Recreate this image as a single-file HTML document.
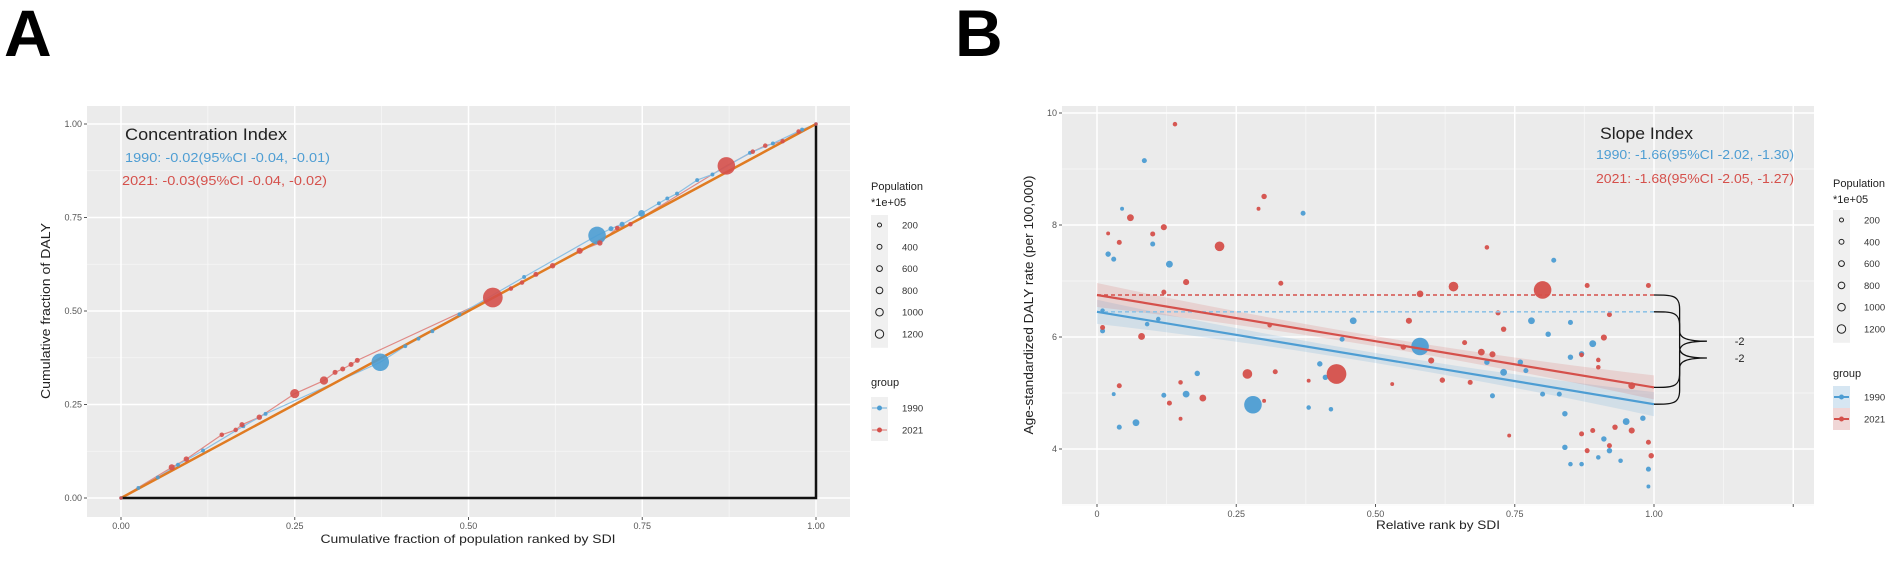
<!DOCTYPE html>
<html><head><meta charset="utf-8">
<style>
html,body{margin:0;padding:0;background:#fff;}
svg{display:block;font-family:"Liberation Sans",sans-serif;}
</style></head>
<body>
<svg id="fig" width="1902" height="563" viewBox="0 0 1902 563">
<text x="4" y="56" font-size="66" font-weight="bold" fill="#000">A</text>
<text x="955" y="56" font-size="66" font-weight="bold" fill="#000">B</text>
<g id="pa"></g>
<g id="pb"></g>
</svg>
<script>
// ---------- Panel A data ----------
const a1990X = [0,0.025,0.053,0.082,0.118,0.176,0.208,0.373,0.409,0.428,0.448,0.487,0.580,0.685,0.705,0.721,0.749,0.774,0.786,0.800,0.829,0.851,0.905,0.938,0.980,1];
const a1990Y = [0,0.027,0.055,0.089,0.127,0.192,0.225,0.363,0.406,0.426,0.446,0.491,0.591,0.702,0.720,0.732,0.761,0.788,0.801,0.814,0.850,0.865,0.923,0.948,0.985,1];
const a1990Pop = [5,10,10,10,10,10,10,1000,10,10,10,10,10,1000,30,30,80,10,10,10,10,10,10,10,10,5];
const a2021X = [0,0.073,0.094,0.145,0.165,0.174,0.199,0.250,0.292,0.308,0.319,0.331,0.340,0.535,0.561,0.577,0.597,0.621,0.660,0.689,0.714,0.733,0.871,0.909,0.927,0.952,0.975,1];
const a2021Y = [0,0.082,0.104,0.169,0.182,0.196,0.216,0.279,0.314,0.336,0.345,0.357,0.368,0.536,0.560,0.576,0.598,0.621,0.661,0.682,0.722,0.732,0.888,0.926,0.942,0.954,0.980,1];
const a2021Pop = [5,60,40,20,20,30,40,200,150,30,30,30,30,1300,20,20,30,40,60,40,20,20,1000,20,20,20,20,5];
const aTicks = [0,0.25,0.5,0.75,1];
const aTickLabels = ["0.00","0.25","0.50","0.75","1.00"];
const legendPop = [200,400,600,800,1000,1200];

// ---------- Panel B data ----------
const b2021Rank = [0.14,0.30,0.29,0.06,0.12,0.10,0.04,0.02,0.22,0.70,0.16,0.33,0.64,0.80,0.58,0.12,0.56,0.72,0.73,0.08,0.01,0.55,0.60,0.66,0.69,0.27,0.43,0.32,0.62,0.67,0.19,0.13,0.04,0.15,0.96,0.91,0.92,0.88,0.99,0.89,0.87,0.92,0.99,0.995,0.15,0.74,0.38,0.30,0.88,0.93,0.96,0.53,0.71,0.87,0.90,0.90,0.31];
const b2021Rate = [9.80,8.51,8.29,8.13,7.96,7.84,7.69,7.85,7.62,7.60,6.98,6.96,6.90,6.84,6.77,6.80,6.29,6.43,6.14,6.01,6.17,5.82,5.58,5.90,5.73,5.34,5.34,5.38,5.23,5.19,4.91,4.82,5.13,5.19,5.13,5.99,6.40,6.92,6.92,4.33,4.27,4.06,4.12,3.88,4.54,4.24,5.22,4.86,3.97,4.39,4.33,5.16,5.69,5.68,5.59,5.46,6.21];
const b2021Pop = [20,40,10,85,60,30,30,10,230,20,60,30,230,1000,80,30,60,30,40,85,30,40,60,30,85,230,1300,30,40,30,85,30,30,20,85,60,30,30,30,30,30,30,30,40,10,10,10,10,30,40,60,10,60,20,20,20,20];
const b1990Rank = [0.085,0.37,0.045,0.02,0.03,0.13,0.82,0.10,0.01,0.01,0.46,0.58,0.78,0.81,0.89,0.85,0.76,0.73,0.70,0.40,0.44,0.28,0.16,0.07,0.04,0.18,0.12,0.84,0.95,0.98,0.91,0.92,0.84,0.87,0.99,0.99,0.80,0.83,0.71,0.38,0.42,0.41,0.03,0.09,0.11,0.77,0.85,0.90,0.94,0.85,0.87];
const b1990Rate = [9.15,8.21,8.29,7.48,7.39,7.30,7.37,7.66,6.11,6.47,6.29,5.83,6.29,6.05,5.88,5.64,5.55,5.37,5.55,5.52,5.96,4.79,4.98,4.47,4.39,5.35,4.96,4.63,4.49,4.55,4.18,3.97,4.03,3.73,3.64,3.33,4.98,4.98,4.95,4.74,4.71,5.28,4.98,6.23,6.32,5.40,6.26,3.85,3.79,3.73,5.70];
const b1990Pop = [30,30,10,40,30,85,30,30,30,20,85,1000,85,40,85,40,40,85,40,40,30,1000,85,85,30,40,30,40,85,40,40,40,40,20,30,10,30,30,30,20,20,40,10,20,20,30,30,20,20,20,40];
const bFit2021 = [6.75,5.10];
const bFit1990 = [6.45,4.80];
const bSlopeLabels = ["-2","-2"];
const bYTicks = [4,6,8,10];
const bXTicks = [0,0.25,0.5,0.75,1,1.25];
const bXTickLabels = ["0","0.25","0.50","0.75","1.00",""];

const BLUE="#4d9dd3", RED="#d5504b";
const NS="http://www.w3.org/2000/svg";
function mk(parent,tag,attrs,text){const e=document.createElementNS(NS,tag);for(const k in attrs)e.setAttribute(k,attrs[k]);if(text!==undefined)e.textContent=text;parent.appendChild(e);return e;}
function rad(p){return 1.2+Math.sqrt(p)*0.24;}
function legR(p){return 1.6+p/1200*2.6;}

// ---------- Panel A ----------
const pa=document.getElementById('pa');
const AX=v=>121+v*695, AY=v=>498-v*374;
const bgA=mk(pa,'rect',{x:87,y:106,width:763,height:411,fill:'#ebebeb'});


for(let i=0;i<aTicks.length-1;i++){const m=(aTicks[i]+aTicks[i+1])/2;
 mk(pa,'line',{x1:AX(m),x2:AX(m),y1:106,y2:517,stroke:'#f7f7f7','stroke-width':0.8});
 mk(pa,'line',{y1:AY(m),y2:AY(m),x1:87,x2:850,stroke:'#f7f7f7','stroke-width':0.8});}
aTicks.forEach((t,i)=>{
 mk(pa,'line',{x1:AX(t),x2:AX(t),y1:106,y2:517,stroke:'#fff','stroke-width':1.5});
 mk(pa,'line',{y1:AY(t),y2:AY(t),x1:87,x2:850,stroke:'#fff','stroke-width':1.5});
 const xl=mk(pa,'text',{x:AX(t),y:529,'font-size':9,fill:'#555','text-anchor':'middle'},aTickLabels[i]);
 
 
 const yl=mk(pa,'text',{x:82,y:AY(t)+3,'font-size':9,fill:'#555','text-anchor':'end'},aTickLabels[i]);
 
 
 mk(pa,'line',{x1:84,x2:87,y1:AY(t),y2:AY(t),stroke:'#555'});
 mk(pa,'line',{x1:AX(t),x2:AX(t),y1:517,y2:520,stroke:'#555'});
});
// curves
function polyA(xs,ys,col){return xs.map((x,i)=>AX(x)+','+AY(ys[i])).join(' ');}
const c21=mk(pa,'polyline',{points:polyA(a2021X,a2021Y),fill:'none',stroke:'#e08a86','stroke-width':1.2});


const c90=mk(pa,'polyline',{points:polyA(a1990X,a1990Y),fill:'none',stroke:'#8cc0e4','stroke-width':1.2});


const eq=mk(pa,'line',{x1:AX(0),y1:AY(0),x2:AX(1),y2:AY(1),stroke:'#e07b22','stroke-width':2.5});


mk(pa,'polyline',{points:`${AX(0)},${AY(0)} ${AX(1)},${AY(0)} ${AX(1)},${AY(1)}`,fill:'none',stroke:'#111','stroke-width':2.5});
a1990X.forEach((x,i)=>{const c=mk(pa,'circle',{cx:AX(x),cy:AY(a1990Y[i]),r:rad(a1990Pop[i]),fill:BLUE,'fill-opacity':0.9});
 
 });
a2021X.forEach((x,i)=>{const c=mk(pa,'circle',{cx:AX(x),cy:AY(a2021Y[i]),r:rad(a2021Pop[i]),fill:RED,'fill-opacity':0.9});
 
 });
let t;
t=mk(pa,'text',{x:125,y:140,'font-size':17,fill:'#222',textLength:162,lengthAdjust:'spacingAndGlyphs'},'Concentration Index');


t=mk(pa,'text',{x:125,y:162,'font-size':13,fill:BLUE,textLength:205,lengthAdjust:'spacingAndGlyphs'},'1990: -0.02(95%CI -0.04, -0.01)');


t=mk(pa,'text',{x:122,y:185,'font-size':13,fill:RED,textLength:205,lengthAdjust:'spacingAndGlyphs'},'2021: -0.03(95%CI -0.04, -0.02)');


t=mk(pa,'text',{x:468,y:543,'font-size':12,fill:'#222','text-anchor':'middle',textLength:295,lengthAdjust:'spacingAndGlyphs'},'Cumulative fraction of population ranked by SDI');


t=mk(pa,'text',{x:0,y:0,'font-size':13,fill:'#222','text-anchor':'middle',transform:'translate(50,311) rotate(-90)',textLength:176,lengthAdjust:'spacingAndGlyphs'},'Cumulative fraction of DALY');



function legend(g,x0,yPop,yKey,yGroup,yG1,style){
 let tt=mk(g,'text',{x:x0,y:yPop,'font-size':11,fill:'#222'},'Population');
 
 
 mk(g,'text',{x:x0,y:yPop+16,'font-size':11,fill:'#222'},'*1e+05');
 mk(g,'rect',{x:x0,y:yKey,width:17,height:legendPop.length*21.8+2,fill:'#f0f0f0'});
 legendPop.forEach((p,i)=>{const cy=yKey+10+i*21.8;
  const c=mk(g,'circle',{cx:x0+8.5,cy:cy,r:legR(p),fill:'none',stroke:'#222','stroke-width':1});
  
  
  mk(g,'text',{x:x0+31,y:cy+3.5,'font-size':9.5,fill:'#333'},String(p));});
 tt=mk(g,'text',{x:x0,y:yGroup,'font-size':11,fill:'#222'},'group');
 
 
 [['1990',BLUE,'#d6e6f2'],['2021',RED,'#f0d6d6']].forEach((d,i)=>{const cy=yG1+i*22;
  mk(g,'rect',{x:x0,y:cy-11,width:17,height:22,fill:style==='b'?d[2]:'#f0f0f0'});
  mk(g,'line',{x1:x0+1,x2:x0+16,y1:cy,y2:cy,stroke:d[1],'stroke-width':style==='b'?2:0.8});
  const c=mk(g,'circle',{cx:x0+8.5,cy:cy,r:2.5,fill:d[1]});
  
  
  mk(g,'text',{x:x0+31,y:cy+3.5,'font-size':9.5,fill:'#333'},d[0]);});
}
legend(pa,871,190,215,386,408,'a');

// ---------- Panel B ----------
const pb=document.getElementById('pb');
const BX=v=>1097+v*557, BY=v=>337-(v-6)*56;
const bgB=mk(pb,'rect',{x:1062,y:106,width:752,height:398,fill:'#ebebeb'});


for(let i=0;i<bXTicks.length-1;i++){const m=(bXTicks[i]+bXTicks[i+1])/2;
 mk(pb,'line',{x1:BX(m),x2:BX(m),y1:106,y2:504,stroke:'#f7f7f7','stroke-width':0.8});}
[3,5,7,9].forEach(v=>mk(pb,'line',{y1:BY(v),y2:BY(v),x1:1062,x2:1814,stroke:'#f7f7f7','stroke-width':0.8}));
bXTicks.forEach((tk,i)=>{
 mk(pb,'line',{x1:BX(tk),x2:BX(tk),y1:106,y2:504,stroke:'#fff','stroke-width':1.5});
 mk(pb,'line',{x1:BX(tk),x2:BX(tk),y1:504,y2:507,stroke:'#555'});
 const xl=mk(pb,'text',{x:BX(tk),y:517,'font-size':9,fill:'#555','text-anchor':'middle'},bXTickLabels[i]);
 
 
});
bYTicks.forEach(v=>{
 mk(pb,'line',{y1:BY(v),y2:BY(v),x1:1062,x2:1814,stroke:'#fff','stroke-width':1.5});
 mk(pb,'line',{x1:1059,x2:1062,y1:BY(v),y2:BY(v),stroke:'#555'});
 const yl=mk(pb,'text',{x:1057,y:BY(v)+3,'font-size':9,fill:'#555','text-anchor':'end'},String(v));
 
 
});
// ribbons
function ribbon(fit,col,name){
 const n=20, up=[], lo=[];
 for(let i=0;i<=n;i++){const x=i/n, y=fit[0]+(fit[1]-fit[0])*x, w=0.09+0.5*(x-0.5)*(x-0.5);
  up.push(BX(x)+','+BY(y+w)); lo.unshift(BX(x)+','+BY(y-w));}
 const p=mk(pb,'polygon',{points:up.concat(lo).join(' '),fill:col,'fill-opacity':0.16});
 
 
}
ribbon(bFit1990,BLUE,'ribbon-1990');
ribbon(bFit2021,RED,'ribbon-2021');
b1990Rank.forEach((x,i)=>{const c=mk(pb,'circle',{cx:BX(x),cy:BY(b1990Rate[i]),r:rad(b1990Pop[i]),fill:BLUE,'fill-opacity':0.95});
 
 });
b2021Rank.forEach((x,i)=>{const c=mk(pb,'circle',{cx:BX(x),cy:BY(b2021Rate[i]),r:rad(b2021Pop[i]),fill:RED,'fill-opacity':0.95});
 
 });
let l;
l=mk(pb,'line',{x1:BX(0),y1:BY(bFit1990[0]),x2:BX(1),y2:BY(bFit1990[0]),stroke:'#8fc3e6','stroke-width':1.6,'stroke-dasharray':'4,3'});


l=mk(pb,'line',{x1:BX(0),y1:BY(bFit2021[0]),x2:BX(1),y2:BY(bFit2021[0]),stroke:RED,'stroke-width':1.6,'stroke-dasharray':'4,3'});


l=mk(pb,'line',{x1:BX(0),y1:BY(bFit1990[0]),x2:BX(1),y2:BY(bFit1990[1]),stroke:BLUE,'stroke-width':2.2});


l=mk(pb,'line',{x1:BX(0),y1:BY(bFit2021[0]),x2:BX(1),y2:BY(bFit2021[1]),stroke:RED,'stroke-width':2.2});


function brace(fit,lab,name){
 const x0=BX(1), xv=BX(1.046), xt=BX(1.095), y1=BY(fit[0]), y2=BY(fit[1]), ym=(y1+y2)/2;
 const d=`M${x0},${y1} C${x0+18},${y1} ${xv},${y1} ${xv},${y1+14} L${xv},${ym-10} C${xv},${ym-3} ${xv+8},${ym} ${xt},${ym} C${xv+8},${ym} ${xv},${ym+3} ${xv},${ym+10} L${xv},${y2-14} C${xv},${y2} ${x0+18},${y2} ${x0},${y2}`;
 const p=mk(pb,'path',{d:d,fill:'none',stroke:'#111','stroke-width':1.3});
 
 
 const tx=mk(pb,'text',{x:BX(1.145),y:ym+4,'font-size':11,fill:'#222'},lab);
 
 
}
brace(bFit2021,bSlopeLabels[1],'slope-brace-2021');
brace(bFit1990,bSlopeLabels[0],'slope-brace-1990');
t=mk(pb,'text',{x:1600,y:139,'font-size':17,fill:'#222',textLength:93,lengthAdjust:'spacingAndGlyphs'},'Slope Index');


t=mk(pb,'text',{x:1596,y:159,'font-size':13,fill:BLUE,textLength:198,lengthAdjust:'spacingAndGlyphs'},'1990: -1.66(95%CI -2.02, -1.30)');


t=mk(pb,'text',{x:1596,y:183,'font-size':13,fill:RED,textLength:198,lengthAdjust:'spacingAndGlyphs'},'2021: -1.68(95%CI -2.05, -1.27)');


t=mk(pb,'text',{x:1438,y:529,'font-size':12,fill:'#222','text-anchor':'middle',textLength:124,lengthAdjust:'spacingAndGlyphs'},'Relative rank by SDI');


t=mk(pb,'text',{x:0,y:0,'font-size':13,fill:'#222','text-anchor':'middle',transform:'translate(1033,305) rotate(-90)',textLength:259,lengthAdjust:'spacingAndGlyphs'},'Age-standardized DALY rate (per 100,000)');


legend(pb,1833,187,210,377,397,'b');
</script>
</body></html>
